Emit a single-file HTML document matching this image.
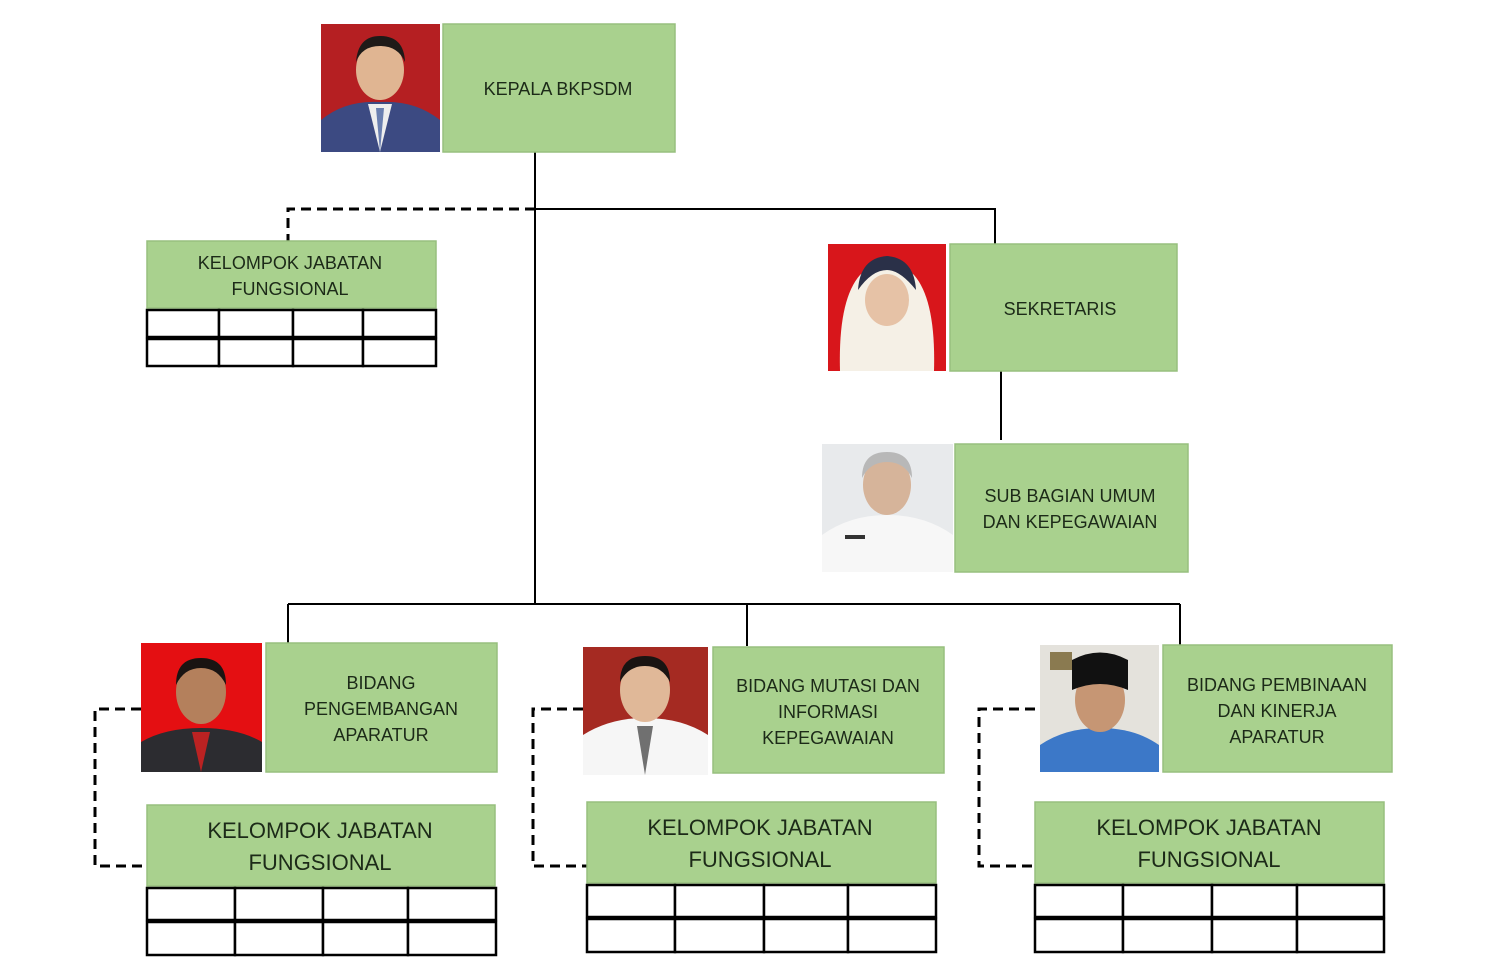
<!DOCTYPE html>
<html><head><meta charset="utf-8"><style>
html,body{margin:0;padding:0;background:#fff;width:1506px;height:974px;overflow:hidden}
svg text{font-family:"Liberation Sans",sans-serif;fill:#1c2a18;text-anchor:middle}
.b{fill:#a9d18e;stroke:#97bf7e;stroke-width:1.5}
.t{font-size:18px}
.T{font-size:22px}
.g{fill:#fff;stroke:#000;stroke-width:2.5}
.s{stroke:#000;stroke-width:2;fill:none}
.d{stroke:#000;stroke-width:3;fill:none;stroke-dasharray:10,6}
</style></head><body>
<svg width="1506" height="974" viewBox="0 0 1506 974">
<!-- connectors -->
<path class="s" d="M535 152V604M535 209H995V244M1001 371V440M288 604H1180M288 604V643M747 604V646M1180 604V646"/>
<path class="d" d="M535 209H288V241"/>
<path class="d" d="M141 709H95V866H147"/>
<path class="d" d="M583 709H533V866H587"/>
<path class="d" d="M1035 709H979V866H1035"/>

<!-- Kepala -->
<rect x="321" y="24" width="119" height="128" fill="#b51f22"/>
<path d="M321 152V120Q345 100 380 102Q415 100 440 120V152Z" fill="#3c4a82"/>
<path d="M368 104L380 152L392 104Z" fill="#eee"/>
<path d="M376 108L380 152L384 108Z" fill="#6a7fb0"/>
<ellipse cx="380" cy="70" rx="24" ry="30" fill="#e0b592"/>
<path d="M356 62Q358 36 380 36Q404 36 405 62Q398 46 380 46Q362 46 356 62Z" fill="#1e1a18"/>
<rect class="b" x="443" y="24" width="232" height="128"/>
<text class="t" x="558" y="95">KEPALA BKPSDM</text>

<!-- KJF top -->
<rect class="b" x="147" y="241" width="289" height="67"/>
<text class="t" x="290" y="269">KELOMPOK JABATAN</text>
<text class="t" x="290" y="295">FUNGSIONAL</text>
<g class="g"><rect x="147" y="310" width="72" height="27"/><rect x="219" y="310" width="74" height="27"/><rect x="293" y="310" width="70" height="27"/><rect x="363" y="310" width="73" height="27"/>
<rect x="147" y="339" width="72" height="27"/><rect x="219" y="339" width="74" height="27"/><rect x="293" y="339" width="70" height="27"/><rect x="363" y="339" width="73" height="27"/></g>

<!-- Sekretaris -->
<rect x="828" y="244" width="118" height="127" fill="#d8161b"/>
<path d="M840 371Q838 300 860 275Q887 250 914 275Q936 300 934 371Z" fill="#f5f0e6"/>
<path d="M858 290Q860 258 887 256Q914 258 916 290Q900 270 887 270Q872 270 858 290Z" fill="#2a3048"/>
<ellipse cx="887" cy="300" rx="22" ry="26" fill="#e6c2a6"/>
<rect class="b" x="950" y="244" width="227" height="127"/>
<text class="t" x="1060" y="315">SEKRETARIS</text>

<!-- Sub bagian -->
<rect x="822" y="444" width="131" height="128" fill="#e8eaec"/>
<path d="M822 572V535Q850 515 887 515Q925 515 953 535V572Z" fill="#f7f7f7"/>
<rect x="845" y="535" width="20" height="4" fill="#333"/>
<ellipse cx="887" cy="485" rx="24" ry="30" fill="#d6b49a"/>
<path d="M862 478Q862 452 887 452Q912 452 912 478Q904 462 887 462Q870 462 862 478Z" fill="#b8b8b8"/>
<rect class="b" x="955" y="444" width="233" height="128"/>
<text class="t" x="1070" y="502">SUB BAGIAN UMUM</text>
<text class="t" x="1070" y="528">DAN KEPEGAWAIAN</text>

<!-- Bidang 1 -->
<rect x="141" y="643" width="121" height="129" fill="#e40f12"/>
<path d="M141 772V742Q165 728 201 728Q238 728 262 742V772Z" fill="#2c2c30"/>
<path d="M192 732L201 772L210 732Z" fill="#b22"/>
<ellipse cx="201" cy="692" rx="25" ry="32" fill="#b4805c"/>
<path d="M176 685Q176 658 201 658Q226 658 226 685Q218 668 201 668Q184 668 176 685Z" fill="#1a1412"/>
<rect class="b" x="266" y="643" width="231" height="129"/>
<text class="t" x="381" y="689">BIDANG</text>
<text class="t" x="381" y="715">PENGEMBANGAN</text>
<text class="t" x="381" y="741">APARATUR</text>
<rect class="b" x="147" y="805" width="348" height="81"/>
<text class="T" x="320" y="838">KELOMPOK JABATAN</text>
<text class="T" x="320" y="870">FUNGSIONAL</text>
<g class="g"><rect x="147" y="888" width="88" height="32"/><rect x="235" y="888" width="88" height="32"/><rect x="323" y="888" width="85" height="32"/><rect x="408" y="888" width="88" height="32"/>
<rect x="147" y="922" width="88" height="33"/><rect x="235" y="922" width="88" height="33"/><rect x="323" y="922" width="85" height="33"/><rect x="408" y="922" width="88" height="33"/></g>

<!-- Bidang 2 -->
<rect x="583" y="647" width="125" height="128" fill="#a52a22"/>
<path d="M583 775V735Q610 718 645 718Q682 718 708 735V775Z" fill="#f6f6f6"/>
<path d="M637 726L645 775L653 726Z" fill="#707070"/>
<ellipse cx="645" cy="690" rx="25" ry="32" fill="#e0b898"/>
<path d="M620 682Q620 656 645 656Q670 656 670 682Q662 666 645 666Q628 666 620 682Z" fill="#1a1412"/>
<rect class="b" x="713" y="647" width="231" height="126"/>
<text class="t" x="828" y="692">BIDANG MUTASI DAN</text>
<text class="t" x="828" y="718">INFORMASI</text>
<text class="t" x="828" y="744">KEPEGAWAIAN</text>
<rect class="b" x="587" y="802" width="349" height="81"/>
<text class="T" x="760" y="835">KELOMPOK JABATAN</text>
<text class="T" x="760" y="867">FUNGSIONAL</text>
<g class="g"><rect x="587" y="885" width="88" height="32"/><rect x="675" y="885" width="89" height="32"/><rect x="764" y="885" width="84" height="32"/><rect x="848" y="885" width="88" height="32"/>
<rect x="587" y="919" width="88" height="33"/><rect x="675" y="919" width="89" height="33"/><rect x="764" y="919" width="84" height="33"/><rect x="848" y="919" width="88" height="33"/></g>

<!-- Bidang 3 -->
<rect x="1040" y="645" width="119" height="127" fill="#e4e2dc"/>
<rect x="1050" y="652" width="22" height="18" fill="#8a7a50"/>
<path d="M1040 772V745Q1065 728 1100 728Q1135 728 1159 745V772Z" fill="#3c78c8"/>
<ellipse cx="1100" cy="700" rx="25" ry="32" fill="#c69674"/>
<path d="M1072 690V660Q1100 645 1128 660V690Q1100 678 1072 690Z" fill="#111"/>
<rect class="b" x="1163" y="645" width="229" height="127"/>
<text class="t" x="1277" y="691">BIDANG PEMBINAAN</text>
<text class="t" x="1277" y="717">DAN KINERJA</text>
<text class="t" x="1277" y="743">APARATUR</text>
<rect class="b" x="1035" y="802" width="349" height="81"/>
<text class="T" x="1209" y="835">KELOMPOK JABATAN</text>
<text class="T" x="1209" y="867">FUNGSIONAL</text>
<g class="g"><rect x="1035" y="885" width="88" height="32"/><rect x="1123" y="885" width="89" height="32"/><rect x="1212" y="885" width="85" height="32"/><rect x="1297" y="885" width="87" height="32"/>
<rect x="1035" y="919" width="88" height="33"/><rect x="1123" y="919" width="89" height="33"/><rect x="1212" y="919" width="85" height="33"/><rect x="1297" y="919" width="87" height="33"/></g>
</svg>
</body></html>
